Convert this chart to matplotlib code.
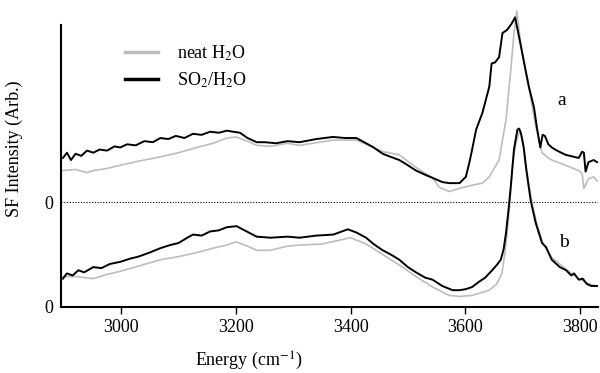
import matplotlib
matplotlib.use("Agg")
import matplotlib.pyplot as plt
from matplotlib.lines import Line2D
import numpy as np

plt.rcParams['font.family'] = ['Liberation Serif', 'DejaVu Serif']
plt.rcParams['mathtext.fontset'] = 'stix'

# spectrum a (SO2/H2O), offset by +1
xa_so2 = [2898, 2905, 2912, 2920, 2930, 2940, 2951, 2962, 2975, 2988, 2998, 3010, 3025, 3040,
          3055, 3068, 3082, 3095, 3110, 3125, 3140, 3155, 3170, 3184, 3195, 3207, 3220, 3236,
          3250, 3270, 3290, 3311, 3340, 3369, 3390, 3410, 3427, 3440, 3456, 3470, 3485, 3500,
          3514, 3530, 3543, 3560, 3572, 3590, 3601, 3607, 3612, 3619, 3630, 3642, 3646, 3652,
          3659, 3665, 3673, 3681, 3687, 3694, 3703, 3711, 3720, 3725, 3731, 3735, 3739, 3745,
          3751, 3760, 3775, 3790, 3798, 3804, 3807, 3810, 3815, 3824, 3830]
ya_so2 = [1.42, 1.47, 1.40, 1.46, 1.44, 1.49, 1.47, 1.50, 1.49, 1.53, 1.52, 1.55, 1.54, 1.58,
          1.57, 1.61, 1.60, 1.63, 1.61, 1.65, 1.64, 1.67, 1.66, 1.68, 1.67, 1.66, 1.61, 1.57,
          1.57, 1.56, 1.58, 1.57, 1.60, 1.62, 1.61, 1.61, 1.56, 1.52, 1.46, 1.43, 1.40, 1.35,
          1.30, 1.26, 1.23, 1.19, 1.18, 1.18, 1.24, 1.37, 1.50, 1.69, 1.85, 2.10, 2.32, 2.33,
          2.38, 2.61, 2.64, 2.70, 2.76, 2.57, 2.32, 2.10, 1.90, 1.71, 1.52, 1.64, 1.63, 1.55,
          1.52, 1.49, 1.45, 1.43, 1.42, 1.48, 1.47, 1.29, 1.38, 1.40, 1.38]

# spectrum a (neat H2O)
xa_h2o = [2898, 2920, 2940, 2951, 2975, 2998, 3030, 3068, 3100, 3125, 3160, 3184, 3200, 3220,
          3236, 3260, 3290, 3311, 3369, 3410, 3440, 3456, 3485, 3514, 3543, 3555, 3572, 3590,
          3612, 3630, 3642, 3659, 3671, 3680, 3685, 3690, 3696, 3705, 3714, 3722, 3730, 3734,
          3745, 3751, 3775, 3798, 3804, 3807, 3815, 3824, 3830]
ya_h2o = [1.30, 1.31, 1.28, 1.30, 1.32, 1.35, 1.39, 1.43, 1.47, 1.51, 1.56, 1.61, 1.62, 1.58,
          1.54, 1.53, 1.56, 1.54, 1.59, 1.59, 1.52, 1.48, 1.45, 1.33, 1.23, 1.14, 1.10, 1.13,
          1.16, 1.18, 1.24, 1.40, 1.78, 2.29, 2.61, 2.82, 2.55, 2.25, 2.00, 1.75, 1.55, 1.47,
          1.42, 1.40, 1.35, 1.30, 1.27, 1.13, 1.22, 1.24, 1.20]

# spectrum b (SO2/H2O)
xb_so2 = [2898, 2905, 2915, 2925, 2935, 2951, 2965, 2980, 2998, 3015, 3030, 3050, 3068, 3085,
          3100, 3115, 3125, 3140, 3155, 3170, 3184, 3201, 3215, 3236, 3260, 3290, 3311, 3340,
          3370, 3395, 3410, 3427, 3440, 3456, 3470, 3485, 3500, 3514, 3530, 3543, 3560, 3578,
          3590, 3601, 3612, 3624, 3635, 3647, 3655, 3662, 3667, 3671, 3676, 3680, 3685, 3691,
          3694, 3697, 3702, 3706, 3714, 3723, 3734, 3741, 3751, 3765, 3776, 3785, 3790, 3798,
          3805, 3812, 3820, 3830]
yb_so2 = [0.27, 0.32, 0.30, 0.35, 0.33, 0.38, 0.37, 0.41, 0.43, 0.46, 0.48, 0.52, 0.56, 0.59,
          0.61, 0.66, 0.69, 0.68, 0.72, 0.73, 0.76, 0.77, 0.73, 0.67, 0.66, 0.67, 0.66, 0.68,
          0.69, 0.74, 0.71, 0.66, 0.60, 0.54, 0.50, 0.45, 0.38, 0.33, 0.28, 0.26, 0.20, 0.16,
          0.16, 0.17, 0.19, 0.24, 0.28, 0.35, 0.40, 0.45, 0.55, 0.70, 0.95, 1.18, 1.50, 1.69,
          1.70, 1.66, 1.52, 1.33, 1.02, 0.80, 0.61, 0.57, 0.45, 0.38, 0.35, 0.30, 0.32, 0.26,
          0.27, 0.22, 0.20, 0.20]

# spectrum b (neat H2O)
xb_h2o = [2898, 2920, 2951, 2975, 2998, 3030, 3068, 3100, 3125, 3160, 3184, 3200, 3220, 3236,
          3260, 3290, 3311, 3350, 3400, 3427, 3456, 3485, 3514, 3543, 3572, 3590, 3612, 3642,
          3655, 3664, 3669, 3673, 3678, 3682, 3688, 3694, 3698, 3704, 3710, 3718, 3726, 3736,
          3751, 3776, 3798, 3815, 3830]
yb_h2o = [0.29, 0.29, 0.27, 0.31, 0.34, 0.39, 0.45, 0.48, 0.51, 0.56, 0.59, 0.62, 0.58, 0.54,
          0.54, 0.58, 0.59, 0.60, 0.66, 0.60, 0.50, 0.40, 0.29, 0.19, 0.11, 0.10, 0.11, 0.16,
          0.22, 0.32, 0.50, 0.70, 1.00, 1.33, 1.55, 1.67, 1.64, 1.45, 1.20, 0.95, 0.77, 0.60,
          0.47, 0.36, 0.27, 0.22, 0.20]

xticks = [3000, 3200, 3400, 3600, 3800]
yticks = [0, 1]
gray = "#bdbdbd"

fig = plt.figure(figsize=(6.0, 3.73), dpi=100)
ax = fig.add_axes([0.102, 0.177, 0.895, 0.816])

ax.plot(xa_h2o, ya_h2o, color=gray, lw=1.2)
ax.plot(xb_h2o, yb_h2o, color=gray, lw=1.2)
ax.plot(xa_so2, ya_so2, color="black", lw=1.4)
ax.plot(xb_so2, yb_so2, color="black", lw=1.4)
ax.axhline(1, color="black", lw=0.8, ls=(0, (1, 1.5)))

ax.text(3769, 1.97, "a", fontsize=14, ha="center", va="center")
ax.text(3772, 0.61, "b", fontsize=14, ha="center", va="center")

handles = [Line2D([], [], color=gray, lw=2.5), Line2D([], [], color="black", lw=2.5)]
ax.legend(handles, ["neat H$_2$O", "SO$_2$/H$_2$O"], loc="upper left",
          bbox_to_anchor=(0.102, 0.895), frameon=False, fontsize=13,
          handlelength=1.8, handletextpad=1.1, labelspacing=0.4, borderpad=0)

ax.set_xlim(2895, 3832)
ax.set_ylim(0, 2.9)
ax.set_xticks(xticks)
ax.set_yticks(yticks)
ax.set_yticklabels(["0", "0"])
ax.tick_params(axis="x", direction="out", length=5, width=1, labelsize=13)
ax.tick_params(axis="y", length=0, labelsize=13, pad=6)

for s in ["top", "right"]:
    ax.spines[s].set_visible(False)
ax.spines["left"].set_linewidth(1.5)
ax.spines["bottom"].set_linewidth(1.5)
ax.spines["left"].set_bounds(0, 2.69)

ax.set_xlabel("Energy (cm$^{-1}$)", fontsize=13)
ax.xaxis.set_label_coords(0.35, -0.14)
ax.set_ylabel("SF Intensity (Arb.)", fontsize=13)
ax.yaxis.set_label_coords(-0.072, 0.52)

fig.savefig("out.png", dpi=100)
